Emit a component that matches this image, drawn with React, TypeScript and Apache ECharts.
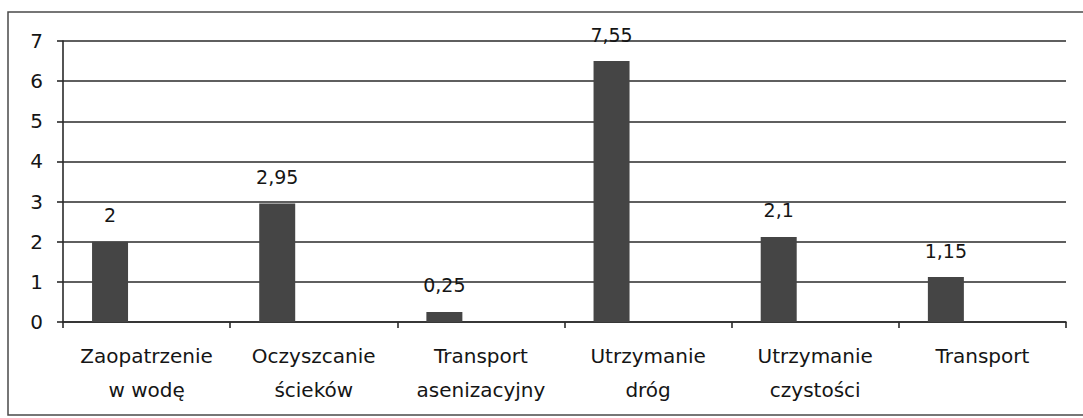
import React, { useEffect, useRef } from "react";
import * as echarts from "echarts";

const categories = [
  "Zaopatrzenie\nw wodę",
  "Oczyszcanie\nścieków",
  "Transport\nasenizacyjny",
  "Utrzymanie\ndróg",
  "Utrzymanie\nczystości",
  "Transport",
];
// bar heights as drawn in the picture
const barHeights = [2, 2.95, 0.25, 6.5, 2.12, 1.12];
// value labels as printed above the bars
const valueLabels = ["2", "2,95", "0,25", "7,55", "2,1", "1,15"];
const emptySeries = ["-", "-", "-", "-", "-", "-"];
const yMin = 0;
const yMax = 7;
const yStep = 1;

const FONT = "'DejaVu Sans', sans-serif";

export default function App() {
  const ref = useRef<HTMLDivElement>(null);
  useEffect(() => {
    document.body.style.margin = "0";
    const chart = echarts.init(ref.current!, undefined, { renderer: "svg" });
    chart.setOption({
      animation: false,
      backgroundColor: "#ffffff",
      graphic: [
        {
          type: "rect",
          shape: { x: 8, y: 12, width: 1100, height: 403 },
          style: { fill: "none", stroke: "#4a4a4a", lineWidth: 1.5 },
          silent: true,
        },
      ],
      grid: { left: 63, right: 17, top: 41, bottom: 96 },
      xAxis: {
        type: "category",
        data: categories,
        boundaryGap: true,
        axisLine: { show: true, lineStyle: { color: "#2a2a2a", width: 1.6 } },
        axisTick: { show: true, length: 6, alignWithLabel: false, lineStyle: { color: "#2a2a2a", width: 1.6 } },
        axisLabel: {
          interval: 0,
          color: "#151515",
          fontFamily: FONT,
          fontSize: 20,
          lineHeight: 34,
          margin: 17,
        },
      },
      yAxis: {
        type: "value",
        min: yMin,
        max: yMax,
        interval: yStep,
        axisLine: { show: true, lineStyle: { color: "#2a2a2a", width: 1.6 } },
        axisTick: { show: true, length: 6, lineStyle: { color: "#2a2a2a", width: 1.6 } },
        splitLine: { show: true, lineStyle: { color: "#2a2a2a", width: 1.7 } },
        axisLabel: {
          color: "#151515",
          fontFamily: FONT,
          fontSize: 20,
          margin: 20,
        },
      },
      series: [
        {
          type: "bar",
          data: barHeights,
          barWidth: 36,
          barGap: "103%",
          itemStyle: { color: "#454545" },
          label: {
            show: true,
            position: "top",
            distance: 17,
            color: "#151515",
            fontFamily: FONT,
            fontSize: 19,
            formatter: (p: any) => valueLabels[p.dataIndex],
          },
        },
        {
          type: "bar",
          data: emptySeries,
          barWidth: 36,
          itemStyle: { color: "#454545" },
        },
      ],
    });
    return () => chart.dispose();
  }, []);
  return (
    <div
      ref={ref}
      style={{ position: "absolute", left: 0, top: 0, width: 1083, height: 418 }}
    />
  );
}
